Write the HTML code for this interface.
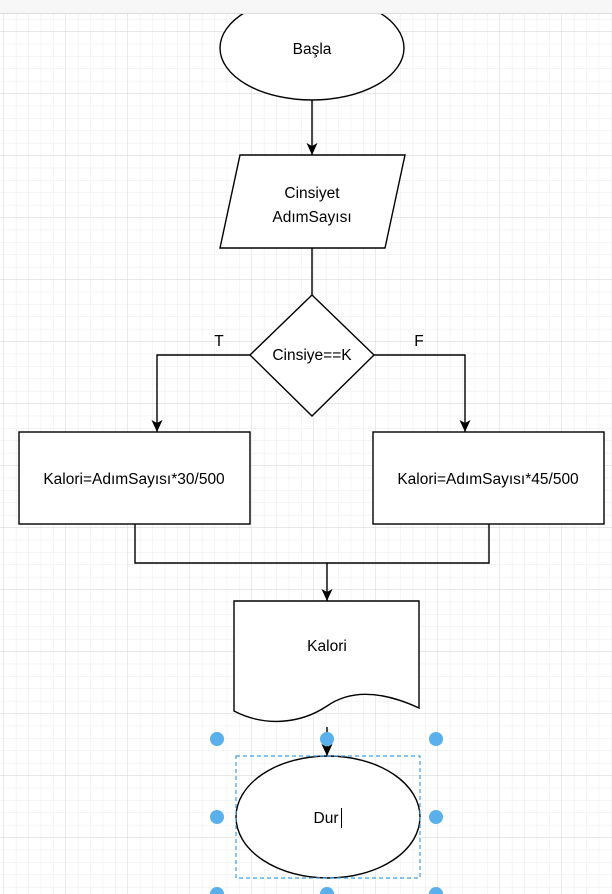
<!DOCTYPE html>
<html><head><meta charset="utf-8"><style>
html,body{margin:0;padding:0;background:#fff}
svg{display:block}
text{font-family:"Liberation Sans",sans-serif;font-size:15.5px;fill:#000}
</style></head><body>
<svg width="612" height="894" viewBox="0 0 612 894" xmlns="http://www.w3.org/2000/svg">
<defs>
<pattern id="minor" width="12.4" height="12.4" patternUnits="userSpaceOnUse" x="4" y="7">
<path d="M12.4 0V12.4H0" fill="none" stroke="#ebebeb" stroke-width="1"/>
</pattern>
<pattern id="major" width="62" height="62" patternUnits="userSpaceOnUse" x="4" y="32">
<path d="M62 0V62H0" fill="none" stroke="#d9d9d9" stroke-width="1"/>
</pattern>
<marker id="ar" markerWidth="14" markerHeight="12" refX="13" refY="6" orient="auto" markerUnits="userSpaceOnUse">
<path d="M1 0.5 L13 6 L1 11.5 L4 6 Z" fill="#000"/>
</marker>
</defs>
<rect width="612" height="894" fill="#fff"/>
<rect width="612" height="894" fill="url(#minor)"/>
<rect width="612" height="894" fill="url(#major)"/>
<g stroke="#000" stroke-width="1.4" fill="#fff">
<ellipse cx="312" cy="48" rx="92" ry="52"/>
<line x1="312" y1="100" x2="312" y2="155" marker-end="url(#ar)" fill="none"/>
<polygon points="240,155 405,155 385,248 220,248"/>
<line x1="312" y1="248" x2="312" y2="295" fill="none"/>
<polygon points="312,295 374,355 312,416 250,355"/>
<polyline points="250,355 157,355 157,432" fill="none" marker-end="url(#ar)"/>
<polyline points="374,355 465,355 465,432" fill="none" marker-end="url(#ar)"/>
<rect x="19" y="432" width="231" height="92"/>
<rect x="373" y="432" width="231" height="92"/>
<polyline points="135,524 135,563 489,563 489,524" fill="none"/>
<line x1="327" y1="563" x2="327" y2="601" marker-end="url(#ar)" fill="none"/>
<path d="M234 601 H419 V708 C380 690 350 690 327 706 C300 724 265 727 234 711 Z"/>
<line x1="327" y1="727" x2="327" y2="756" fill="none" marker-end="url(#ar)"/>
<ellipse cx="328" cy="817" rx="92" ry="61"/>
</g>
<rect x="0" y="0" width="612" height="13" fill="#f7f7f7"/>
<line x1="0" y1="13.5" x2="612" y2="13.5" stroke="#dcdcdc"/>
<rect x="236" y="756" width="184" height="122" fill="none" stroke="#3ea0e8" stroke-width="1.2" stroke-dasharray="4,3"/>
<g fill="#5ab0ea">
<circle cx="217" cy="739" r="7"/><circle cx="327" cy="739" r="7"/><circle cx="436" cy="739" r="7"/>
<circle cx="217" cy="817" r="7"/><circle cx="436" cy="817" r="7"/>
<circle cx="217" cy="894" r="7"/><circle cx="327" cy="894" r="7"/><circle cx="436" cy="894" r="7"/>
</g>
<g text-anchor="middle">
<text x="312" y="54">Başla</text>
<text x="312" y="198">Cinsiyet</text>
<text x="312" y="222">AdımSayısı</text>
<text x="312" y="360">Cinsiye==K</text>
<text x="219" y="346">T</text>
<text x="419" y="346">F</text>
<text x="134" y="484">Kalori=AdımSayısı*30/500</text>
<text x="488" y="484">Kalori=AdımSayısı*45/500</text>
<text x="327" y="651">Kalori</text>
<text x="326" y="823">Dur</text>
</g>
<line x1="341.5" y1="808" x2="341.5" y2="828" stroke="#000" stroke-width="1"/>
</svg>
</body></html>
